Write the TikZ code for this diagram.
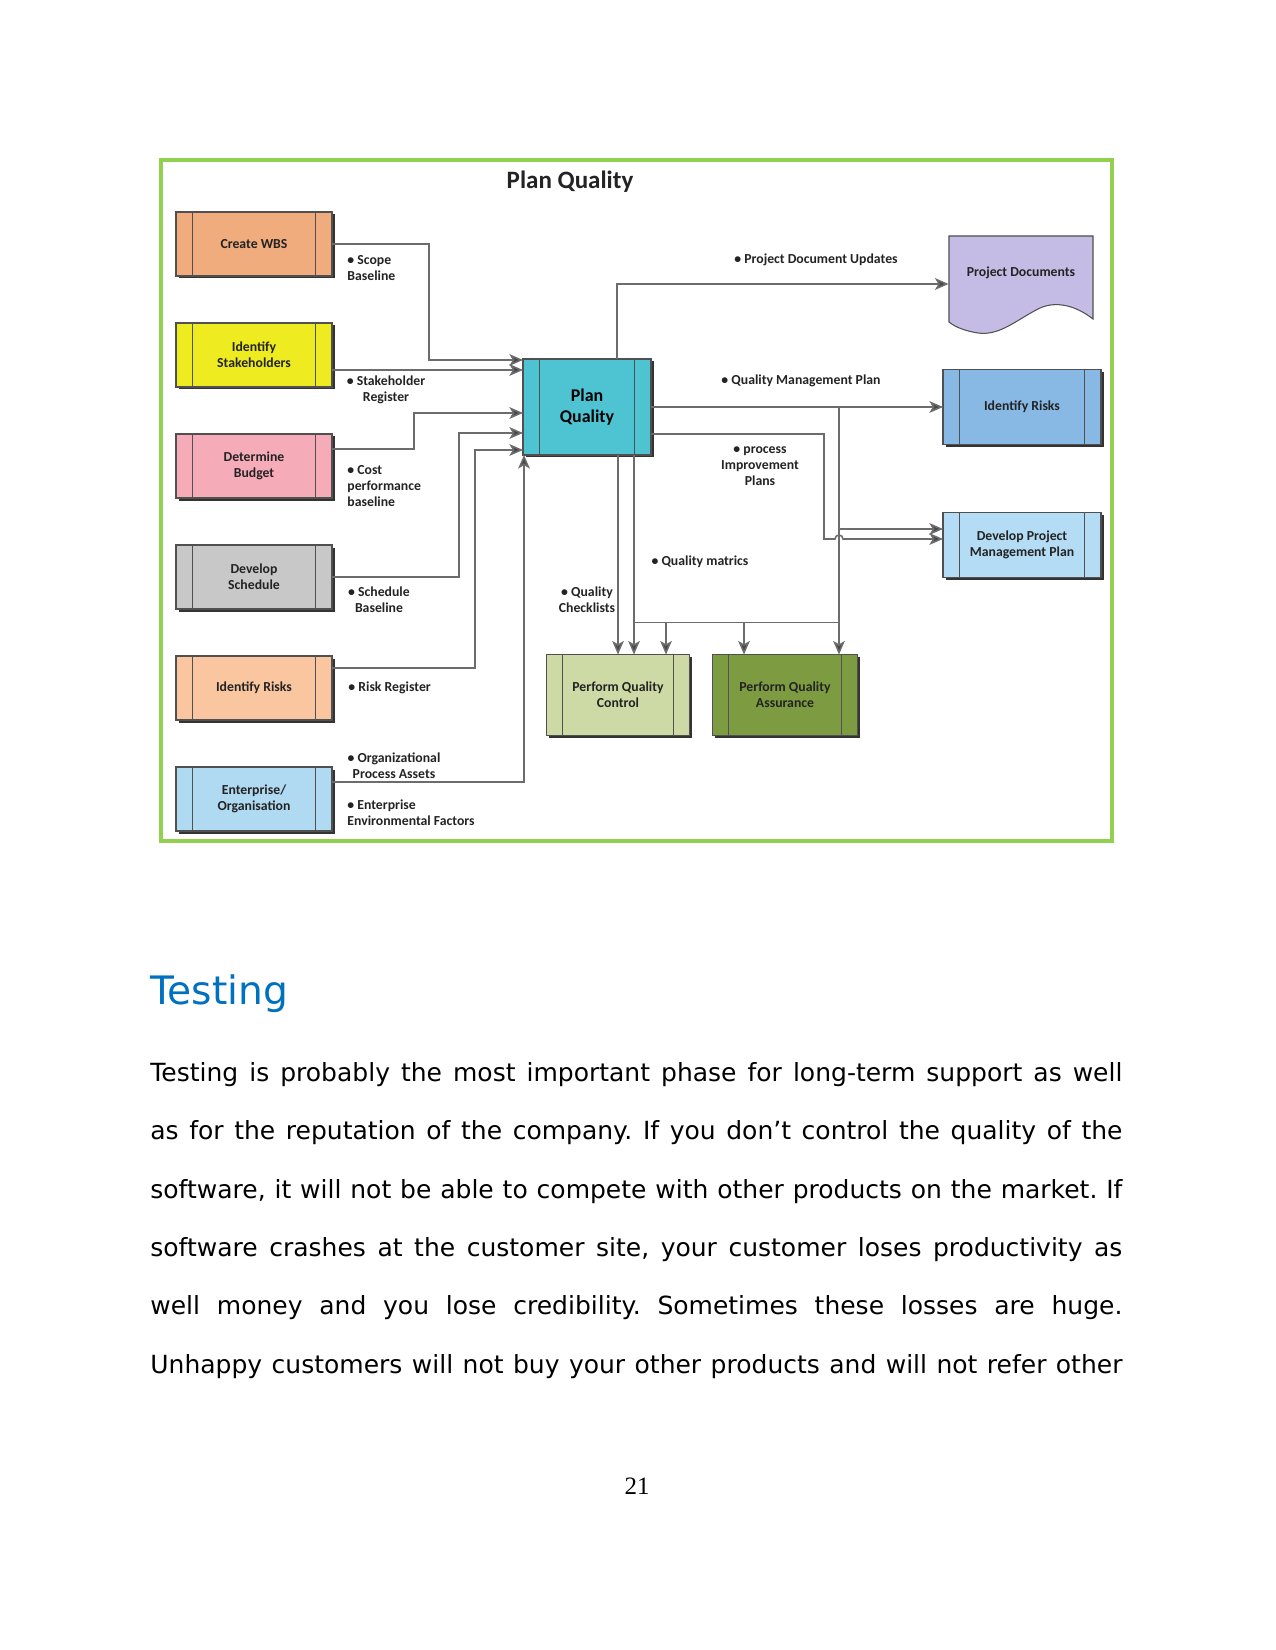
\documentclass[tikz,border=0pt]{standalone}
\usepackage{fontspec}
\setmainfont{DejaVu Sans}
\newfontfamily\diafont{Carlito}
\newfontfamily\numfont{Liberation Serif}
\usetikzlibrary{arrows.meta,calc,shadows}
\frenchspacing

\newlength\pu
\setlength\pu{0.48pt}

\newcommand\diabox{\diafont\bfseries\fontsize{6.6}{7.7}\selectfont}
\newcommand\diapq{\diafont\bfseries\fontsize{8.6}{10}\selectfont}
\newcommand\diatitle{\diafont\bfseries\fontsize{12}{14}\selectfont}

\definecolor{framegreen}{RGB}{146,208,80}
\definecolor{linegray}{RGB}{108,108,108}
\definecolor{boxedge}{RGB}{80,80,80}
\definecolor{boxtext}{RGB}{35,35,35}
\definecolor{wbsc}{RGB}{241,172,126}
\definecolor{stkc}{RGB}{238,236,32}
\definecolor{budc}{RGB}{246,172,184}
\definecolor{schc}{RGB}{200,200,200}
\definecolor{rskc}{RGB}{249,198,160}
\definecolor{entc}{RGB}{176,218,242}
\definecolor{pqcol}{RGB}{78,195,210}
\definecolor{docc}{RGB}{196,188,228}
\definecolor{irc}{RGB}{135,185,228}
\definecolor{dpc}{RGB}{180,220,245}
\definecolor{qcc}{RGB}{205,218,165}
\definecolor{qac}{RGB}{125,155,65}
\definecolor{headblue}{RGB}{0,112,192}

\tikzset{
  flow/.style={draw=linegray, line width=0.75pt,
    -{Stealth[length=6.5pt,width=5.6pt,inset=1.6pt,fill=black!72]}},
  plain/.style={draw=linegray, line width=0.75pt},
  proc/.style={draw=boxedge, line width=0.5pt, minimum width=156\pu,
    minimum height=64\pu, inner sep=0pt, outer sep=0pt, align=center,
    font=\diabox, text=boxtext,
    general shadow={fill=black!80, shadow xshift=1.2pt, shadow yshift=-1.2pt},
    path picture={
      \draw[boxedge, line width=0.5pt]
        ([xshift=7.7pt]path picture bounding box.north west) --
        ([xshift=7.7pt]path picture bounding box.south west)
        ([xshift=-7.7pt]path picture bounding box.north east) --
        ([xshift=-7.7pt]path picture bounding box.south east);
    }},
  lab/.style={font=\diabox, inner sep=0pt, text=boxtext},
  body/.style={anchor=base west, inner sep=0pt, font=\fontsize{12}{14}\selectfont},
}

\begin{document}
\begin{tikzpicture}[x=0.48pt, y=-0.48pt]
        \useasboundingbox (0,0) rectangle (1275,1650);
        % Frame and title
            \draw[framegreen, line width=1.9pt] (161,160) rectangle (1112,841);
            \node[font=\diatitle, text=boxtext] (title) at (570,182) {Plan Quality};
        % Inputs
            \node[proc, fill=wbsc] (wbs) at (254,244) {Create WBS};
            \node[proc, fill=stkc] (stake) at (254,355) {Identify\\Stakeholders};
            \node[proc, fill=budc] (budget) at (254,466) {Determine\\Budget};
            \node[proc, fill=schc] (sched) at (254,577) {Develop\\Schedule};
            \node[proc, fill=rskc] (risks) at (254,688) {Identify Risks};
            \node[proc, fill=entc] (ent) at (254,799) {Enterprise/\\Organisation};
        % Plan Quality
            \node[proc, fill=pqcol, minimum width=128\pu, minimum height=96\pu,
              font=\diapq, text={RGB:red,15;green,45;blue,60}] (pq) at (587,407) {Plan\\Quality};
        % Outputs
            \fill[docc, draw=boxedge, line width=0.5pt] (949,236) -- (1093,236) -- (1093,319)
              .. controls (1075,305) and (1056,301) .. (1040,308)
              .. controls (1016,320) and (1000,336) .. (978,333)
              .. controls (965,331) and (955,327) .. (949,322) -- cycle;
            \node[lab, minimum width=144\pu, minimum height=60\pu] (doc) at (1021,273) {Project Documents};
            \node[proc, fill=irc, minimum width=158\pu, minimum height=75\pu] (irisk) at (1022,407) {Identify Risks};
            \node[proc, fill=dpc, minimum width=158\pu, minimum height=65\pu] (dpmp) at (1022,545) {Develop Project\\Management Plan};
            \node[proc, fill=qcc, minimum width=143\pu, minimum height=81\pu] (pqc) at (618,695) {Perform Quality\\Control};
            \node[proc, fill=qac, minimum width=145\pu, minimum height=81\pu] (pqa) at (785,695) {Perform Quality\\Assurance};
        % Inputs into Plan Quality
            \draw[flow] (wbs.east) -- ++(97,0) |- ($(pq.north west)+(0,1)$);
            \draw[flow] ($(stake.east)+(0,15)$) -- ($(pq.north west)+(0,11)$);
            \draw[flow] ($(budget.east)+(0,-17)$) -- ++(82,0) |- ($(pq.west)+(0,6)$);
            \draw[flow] (sched.east) -- ++(127,0) |- ($(pq.west)+(0,26)$);
            \draw[flow] ($(risks.east)+(0,-20)$) -- ++(143,0) |- ($(pq.west)+(0,43)$);
            \draw[flow] ($(ent.east)+(0,-17)$) -| ($(pq.south west)+(1,0)$);
        % Outputs of Plan Quality
            \draw[flow] ($(pq.north)+(30,0)$) |- ($(doc.west)+(0,11)$);
            \draw[flow] (pq.east) -- (irisk.west);
            \coordinate (qmp) at ($(pq.east)+(188,0)$);
            \coordinate (dpA) at ($(dpmp.west)+(0,-16)$);
            \coordinate (dpB) at ($(dpmp.west)+(0,-6)$);
            \coordinate (hop) at (dpB -| qmp);
            \draw[flow] (qmp) -- (qmp |- pqa.north);
            \draw[flow] (qmp |- dpA) -- (dpA);
            \draw[flow] ($(pq.east)+(0,27)$) -| ($(hop)+(-15,0)$) -- ($(hop)+(-4,0)$)
              arc[start angle=180, end angle=360, radius=4] -- (dpB);
            \draw[flow] (pq.south -| pqc.north) -- (pqc.north);
            \draw[flow] ($(pq.south)+(47,0)$) -- ($(pqc.north)+(16,0)$);
            \coordinate (qm) at ($(pqc.north)+(16,-32)$);
            \draw[plain] (qm) -- (qm -| qmp);
            \draw[flow] ($(qm)+(32,0)$) -- ($(pqc.north)+(48,0)$);
            \draw[flow] ($(qm)+(110,0)$) -- ($(pqa.north)+(-41,0)$);
        % Labels for connectors
            \node[lab, anchor=west, align=left] (lscope) at (347,268) {• Scope\\Baseline};
            \node[lab, align=center] (lstake) at (386,390) {• Stakeholder\\Register};
            \node[lab, anchor=west, align=left] (lcost) at (347,486) {• Cost\\performance\\baseline};
            \node[lab, align=center] (lsched) at (379,600) {• Schedule\\Baseline};
            \node[lab, anchor=west] (lrisk) at (348,688) {• Risk Register};
            \node[lab, align=center] (lopa) at (394,766) {• Organizational\\Process Assets};
            \node[lab, anchor=west, align=left] (leef) at (347,813) {• Enterprise\\Environmental Factors};
            \node[lab] (lpdu) at (816,260) {• Project Document Updates};
            \node[lab] (lqmp) at (801,381) {• Quality Management Plan};
            \node[lab, align=center] (lpip) at (760,466) {• process\\Improvement\\Plans};
            \node[lab] (lqm) at (700,562) {• Quality matrics};
            \node[lab, align=center] (lqc) at (587,600) {• Quality\\Checklists};
        % Text below
            \node[anchor=base west, inner sep=0pt, text=headblue, font=\fontsize{18.8}{22}\selectfont] (head) at (150,1004) {Testing};
            \node[body] (line1) at (150,1081) {\makebox[972\pu][s]{Testing is probably the most important phase for long-term support as well}};
            \node[body] (line2) at (150,1139) {\makebox[972\pu][s]{as for the reputation of the company. If you don’t control the quality of the}};
            \node[body] (line3) at (150,1198) {\makebox[972\pu][s]{software, it will not be able to compete with other products on the market. If}};
            \node[body] (line4) at (150,1256) {\makebox[972\pu][s]{software crashes at the customer site, your customer loses productivity as}};
            \node[body] (line5) at (150,1314) {\makebox[972\pu][s]{well money and you lose credibility. Sometimes these losses are huge.}};
            \node[body] (line6) at (150,1373) {\makebox[972\pu][s]{Unhappy customers will not buy your other products and will not refer other}};
            \node[anchor=base, inner sep=0pt, font=\numfont\fontsize{12}{14}\selectfont] (pnum) at (637,1494) {21};
        \end{tikzpicture}
\end{document}
